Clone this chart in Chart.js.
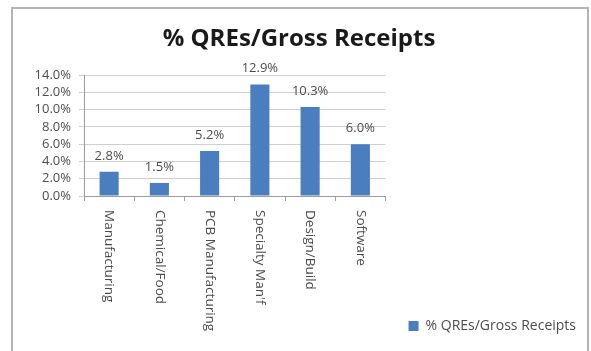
<!DOCTYPE html>
<html>
<head>
<meta charset="utf-8">
<script src="https://cdn.jsdelivr.net/npm/chart.js@4"></script>
<style>
html,body{margin:0;padding:0;background:#fff;}
#frame{position:absolute;left:11px;top:7px;width:574px;height:360px;border:2px solid #b4b4b4;border-bottom:none;}
#wrap{position:absolute;left:0;top:0;width:591px;height:351px;}
</style>
</head>
<body>
<div id="frame"></div>
<div id="wrap"><canvas id="c" width="591" height="351"></canvas></div>
<script>
const categories = ["Manufacturing", "Chemical/Food", "PCB Manufacturing", "Specialty Man'f", "Design/Build", "Software"];
const seriesName = "% QREs/Gross Receipts";
const values = [2.8, 1.5, 5.2, 12.9, 10.3, 6.0];
const yTicks = [0, 2, 4, 6, 8, 10, 12, 14];

const FONT = "'Open Sans', 'DejaVu Sans', sans-serif";
const TXT = '#4c4c4c';

const valueLabels = {
  id: 'valueLabels',
  afterDatasetsDraw(chart) {
    const ctx = chart.ctx;
    const meta = chart.getDatasetMeta(0);
    ctx.save();
    ctx.font = '13px ' + FONT;
    ctx.fillStyle = TXT;
    ctx.textAlign = 'center';
    ctx.textBaseline = 'middle';
    meta.data.forEach((bar, i) => {
      ctx.fillText(values[i].toFixed(1) + '%', bar.x, bar.y - 16);
    });
    ctx.restore();
  }
};

const xLabels = {
  id: 'xLabels',
  afterDraw(chart) {
    const ctx = chart.ctx;
    const xs = chart.scales.x;
    ctx.save();
    ctx.font = '13.5px ' + FONT;
    ctx.fillStyle = TXT;
    ctx.textAlign = 'left';
    ctx.textBaseline = 'middle';
    xs.ticks.forEach((t, i) => {
      const x = xs.getPixelForTick(i);
      ctx.save();
      ctx.translate(x, chart.chartArea.bottom + 14);
      ctx.rotate(Math.PI / 2);
      ctx.fillText(xs.getLabelForValue(t.value), 0, 0);
      ctx.restore();
    });
    ctx.restore();
  }
};

new Chart(document.getElementById('c'), {
  type: 'bar',
  data: {
    labels: categories,
    datasets: [{
      label: seriesName,
      data: values,
      backgroundColor: '#4a7ebf',
      borderWidth: 0,
      categoryPercentage: 1.0,
      barPercentage: 0.38
    }]
  },
  options: {
    responsive: false,
    animation: false,
    devicePixelRatio: 1,
    layout: { padding: { left: 12, right: 5, top: 8, bottom: 8 } },
    plugins: {
      title: {
        display: true,
        text: seriesName,
        color: '#1a1a1a',
        font: { family: FONT, size: 24, weight: 'bold' },
        padding: { top: 16.6, bottom: 21.6 }
      },
      legend: {
        position: 'bottom',
        align: 'end',
        labels: {
          boxWidth: 10,
          boxHeight: 10,
          color: TXT,
          font: { family: FONT, size: 14 },
          padding: 10
        }
      },
      tooltip: { enabled: false }
    },
    scales: {
      x: {
        grid: { display: true, drawOnChartArea: false, offset: true, tickLength: 5, color: '#a0a0a0' },
        border: { color: '#9a9a9a' },
        ticks: { color: 'transparent', minRotation: 90, maxRotation: 90, font: { family: FONT, size: 13 } },
        afterFit(s) { s.height = 113; }
      },
      y: {
        min: 0, max: 14,
        afterBuildTicks(s) { s.ticks = yTicks.map(v => ({ value: v })); },
        grid: { color: '#cfcfcf', tickLength: 5, drawTicks: true },
        border: { color: '#9a9a9a' },
        ticks: {
          color: TXT,
          padding: 8,
          autoSkip: false,
          font: { family: FONT, size: 13 },
          callback: v => Number(v).toFixed(1) + '%'
        },
        afterFit(s) { s.width = 72; }
      },
      gap: {
        position: 'right',
        display: true,
        grid: { display: false },
        border: { display: false },
        ticks: { display: false },
        afterFit(s) { s.width = 200.5; }
      }
    }
  },
  plugins: [valueLabels, xLabels]
});
</script>
</body>
</html>
